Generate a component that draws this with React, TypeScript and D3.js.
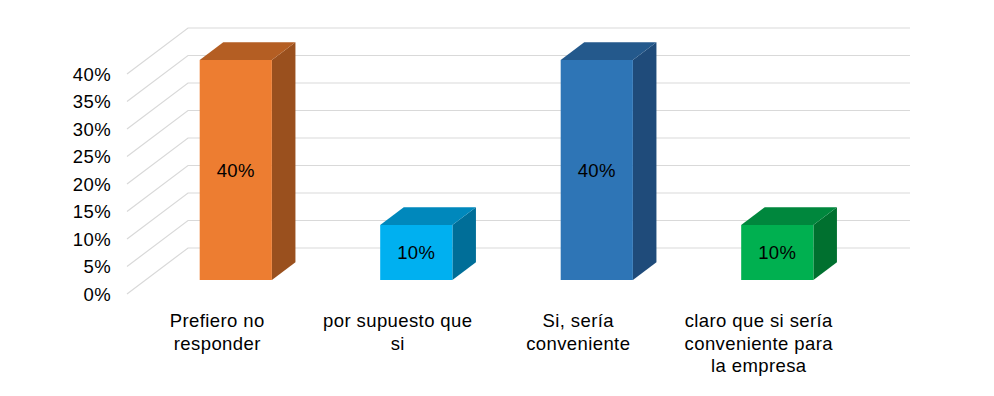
import React from "react";
import * as d3 from "d3";

const categories: string[] = [
  "Prefiero no responder",
  "por supuesto que si",
  "Si, sería conveniente",
  "claro que si sería conveniente para la empresa",
];
const values: number[] = [0.4, 0.1, 0.4, 0.1];
const yTicks: number[] = [0, 0.05, 0.1, 0.15, 0.2, 0.25, 0.3, 0.35, 0.4];
const frontColors: string[] = ["#ED7D31", "#00B0F0", "#2E75B6", "#00B050"];
const topColors: string[] = ["#B45E23", "#0088BC", "#24598C", "#00873D"];
const sideColors: string[] = ["#9A501E", "#006E98", "#1F4B7A", "#00702F"];

const W = 994;
const H = 396;
const FONT = "'Liberation Sans', Arial, sans-serif";
const FS = 18.5;
const LS = 0.4;

// oblique depth vector for z in [0,1]
const DX = 61;
const DY = -46;
const Z0 = 0.304;
const Z1 = 0.69;

function measure(text: string): number {
  const c = document.createElement("canvas").getContext("2d");
  if (!c) return text.length * 9;
  c.font = `${FS}px ${FONT}`;
  return c.measureText(text).width + LS * text.length;
}

function wrap(text: string, maxW: number): string[] {
  const words = text.split(" ");
  const lines: string[] = [];
  let cur = "";
  for (const w of words) {
    const t = cur ? cur + " " + w : w;
    if (cur && measure(t) > maxW) {
      lines.push(cur);
      cur = w;
    } else cur = t;
  }
  if (cur) lines.push(cur);
  return lines;
}

export default function App() {
  const y = d3.scaleLinear().domain([0, 0.4]).range([294, 74]);
  const x = d3
    .scaleBand<string>()
    .domain(categories)
    .range([127, 849])
    .paddingInner(0.6)
    .paddingOuter(0.3);
  const xc = d3.scaleBand<string>().domain(categories).range([127, 849]).padding(0);

  const P = (px: number, v: number, z: number): [number, number] => [px + z * DX, y(v) + z * DY];
  const poly = (pts: [number, number][]) => d3.line()(pts.concat([pts[0]])) as string;

  return (
    <svg
      width={W}
      height={H}
      style={{ position: "absolute", left: 0, top: 0, background: "#fff" }}
      fontFamily={FONT}
    >
      <rect x={0} y={0} width={W} height={H} fill="#fff" />
      {yTicks.map((t) => {
        const a = P(127, t, 0);
        const b = P(127, t, 1);
        return (
          <path
            key={"g" + t}
            d={d3.line()([a, b, [910, b[1]]]) as string}
            fill="none"
            stroke="#D9D9D9"
            strokeWidth={1.2}
          />
        );
      })}
      {yTicks.map((t) => (
        <text
          key={"t" + t}
          x={111}
          y={y(t)}
          textAnchor="end"
          dominantBaseline="central"
          fontSize={FS}
          letterSpacing={LS}
          fill="#000"
        >
          {d3.format(".0%")(t)}
        </text>
      ))}
      {categories.map((c, i) => {
        const x0 = x(c)!;
        const x1 = x0 + x.bandwidth();
        const v = values[i];
        const front: [number, number][] = [P(x0, 0, Z0), P(x1, 0, Z0), P(x1, v, Z0), P(x0, v, Z0)];
        const top: [number, number][] = [P(x0, v, Z0), P(x1, v, Z0), P(x1, v, Z1), P(x0, v, Z1)];
        const side: [number, number][] = [P(x1, 0, Z0), P(x1, 0, Z1), P(x1, v, Z1), P(x1, v, Z0)];
        const [cx, cy] = P((x0 + x1) / 2, v / 2, Z0);
        return (
          <g key={c}>
            <path d={poly(side)} fill={sideColors[i]} />
            <path d={poly(top)} fill={topColors[i]} />
            <path d={poly(front)} fill={frontColors[i]} />
            <text
              x={cx}
              y={cy}
              textAnchor="middle"
              dominantBaseline="central"
              fontSize={FS}
              letterSpacing={LS}
              fill="#000"
            >
              {d3.format(".0%")(v)}
            </text>
          </g>
        );
      })}
      {categories.map((c) => {
        const lines = wrap(c, 162);
        const cx = xc(c)! + xc.bandwidth() / 2;
        return (
          <text key={"l" + c} textAnchor="middle" fontSize={FS} letterSpacing={LS} fill="#000">
            {lines.map((ln, j) => (
              <tspan key={j} x={cx} y={327 + j * 22.5}>
                {ln}
              </tspan>
            ))}
          </text>
        );
      })}
    </svg>
  );
}
